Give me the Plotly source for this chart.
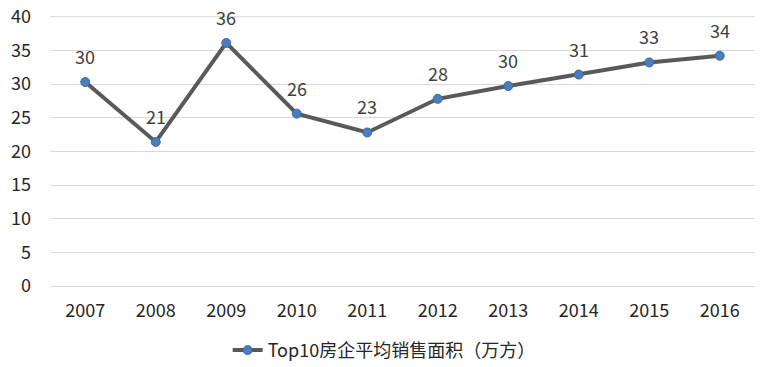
import plotly.graph_objects as go

years = ["2007", "2008", "2009", "2010", "2011", "2012", "2013", "2014", "2015", "2016"]
values = [30.3, 21.4, 36.1, 25.6, 22.8, 27.8, 29.7, 31.4, 33.2, 34.2]
labels = ["30", "21", "36", "26", "23", "28", "30", "31", "33", "34"]
series_name = "Top10房企平均销售面积（万方）"
y_ticks = [0, 5, 10, 15, 20, 25, 30, 35, 40]

font_family = "Noto Sans CJK SC, Open Sans, sans-serif"

fig = go.Figure()
fig.add_trace(go.Scatter(
    x=years, y=values, mode="lines+markers", name=series_name,
    line=dict(color="#595959", width=4),
    marker=dict(color="#4a7ebb", size=9, line=dict(color="#3a6aa5", width=1)),
))

for i, (y, t) in enumerate(zip(values, labels)):
    fig.add_annotation(x=i, y=y, xref="x", yref="y", text=t, showarrow=False, yshift=26,
                       font=dict(size=18, color="#404040", family=font_family))

# top gridline (plotly omits grid lines at the plot edge)
fig.add_shape(type="line", xref="paper", yref="y", x0=0, x1=1, y0=y_ticks[-1], y1=y_ticks[-1],
              layer="below", line=dict(color="#d9d9d9", width=1))

fig.add_shape(type="line", xref="paper", yref="paper", x0=1.0255, x1=1.0255,
              y0=-0.35, y1=1.05, line=dict(color="#d9d9d9", width=1))

fig.update_layout(
    width=775, height=367,
    margin=dict(l=42, r=28, t=8, b=89, autoexpand=False),
    plot_bgcolor="white", paper_bgcolor="white",
    font=dict(family=font_family, size=16, color="#262626"),
    showlegend=True,
    legend=dict(orientation="h", x=0.474, xanchor="center", y=-0.17, yanchor="top",
                font=dict(size=18, color="#262626")),
    xaxis=dict(type="category", range=[-0.5, len(years) - 0.5], showgrid=False,
               automargin=False, showline=False, ticks="", ticklabelstandoff=12,
               tickfont=dict(size=18, color="#262626")),
    yaxis=dict(range=[0, 40.1], tickvals=y_ticks, showgrid=True, gridcolor="#d9d9d9",
               gridwidth=1, zeroline=True, zerolinecolor="#d9d9d9", zerolinewidth=1,
               automargin=False, ticks="", ticklabelstandoff=18,
               ticklabeloverflow="allow",
               tickfont=dict(size=18, color="#262626")),
)

fig.write_html("out.html")
